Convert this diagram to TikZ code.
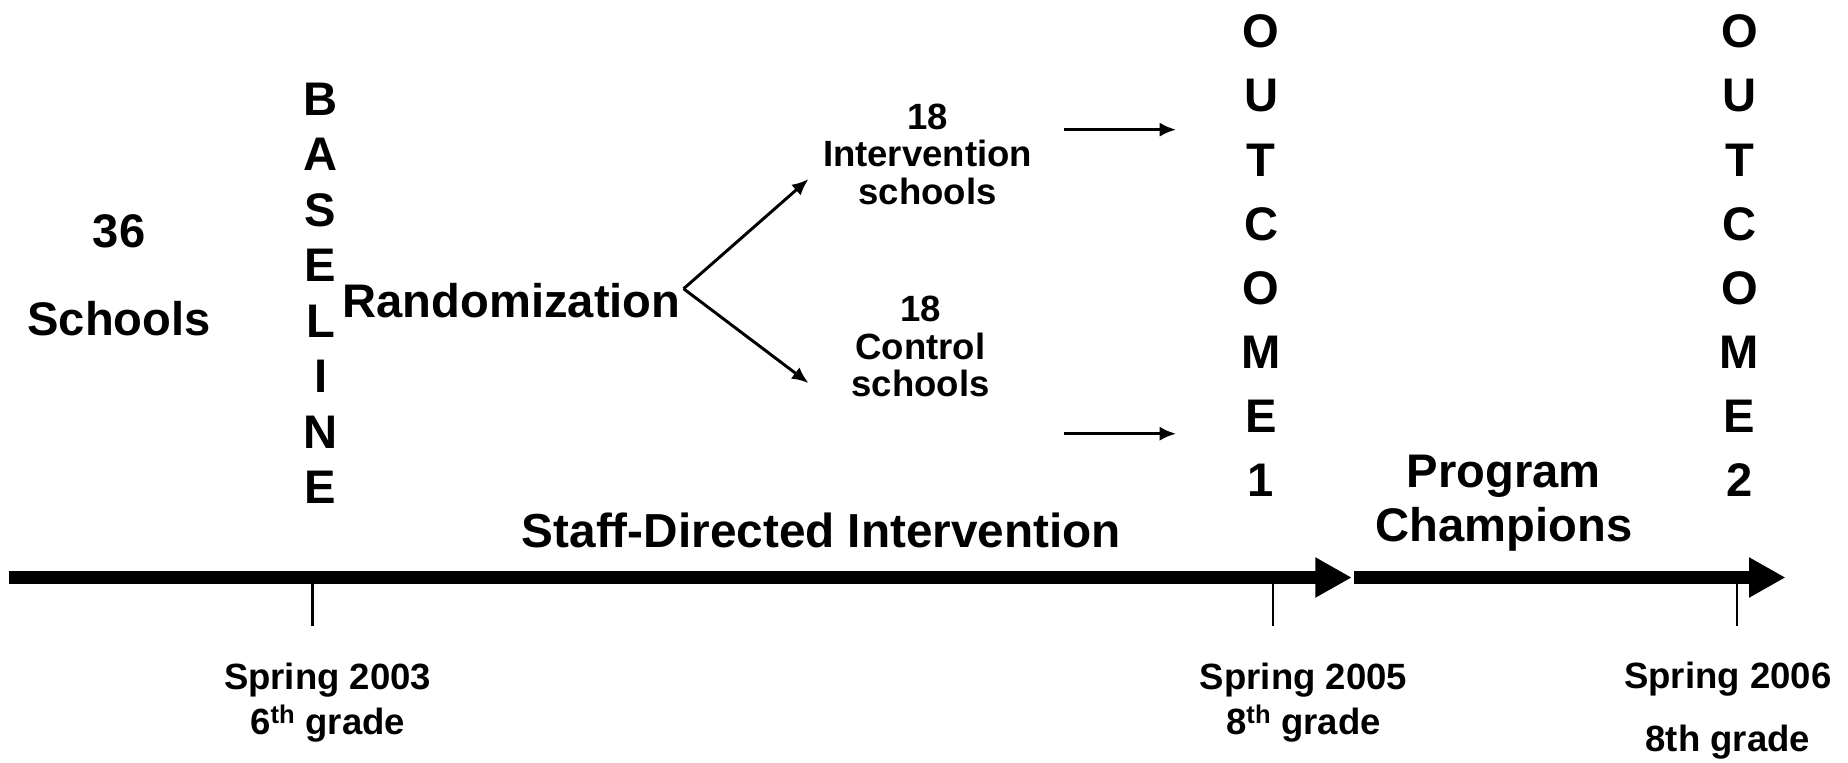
\documentclass[tikz,border=0pt]{standalone}
\usepackage{fontspec}
\setmainfont{Liberation Sans}
\usetikzlibrary{arrows.meta,positioning}

\begin{document}
\begin{tikzpicture}[x=1pt, y=-1pt, >={Latex[length=14pt,width=12pt]},
  big/.style={font=\bfseries\fontsize{40}{44}\selectfont, align=center, inner sep=0pt},
  small/.style={font=\bfseries\fontsize{31}{32}\selectfont, align=center, inner sep=0pt},
  bar/.style={line width=11pt, black},
  tick/.style={line width=2pt, black}]

\useasboundingbox (0,0) rectangle (1568,647);

% Step 1: schools and baseline
\path
(101,196) node[big] (n36) {36}
(101,270) node[big] (schools) {Schools}
(272,249) node[big, font=\bfseries\fontsize{40}{47.1}\selectfont] (baseline) {B\\A\\S\\E\\L\\I\\N\\E}
(434,255) node[big] (rand) {Randomization};
% End step 1

% Step 2: the two arms
\path
(787,131) node[small] (interv) {18\\Intervention\\schools}
(781,294) node[small] (control) {18\\Control\\schools};
\coordinate (split) at (580,245);
\coordinate (armA) at (686,152);
\coordinate (armB) at (686,325);
\draw[->, line width=2.5pt] (split) -- (armA);
\draw[->, line width=2.5pt] (split) -- (armB);

\coordinate (goA) at (903,110);
\coordinate (goA2) at (998,110);
\coordinate (goB) at (903,368);
\coordinate (goB2) at (998,368);
\draw[->, line width=3pt] (goA) -- (goA2);
\draw[->, line width=3pt] (goB) -- (goB2);
% end of Step 2

% step 3: outcomes
\path
(1070,217) node[big, font=\bfseries\fontsize{40}{54.4}\selectfont] (out1) {O\\U\\T\\C\\O\\M\\E\\1}
(1476,217) node[big, font=\bfseries\fontsize{40}{54.4}\selectfont] (out2) {O\\U\\T\\C\\O\\M\\E\\2}
(697,450) node[big, font=\bfseries\fontsize{40.5}{44}\selectfont] (staff) {Staff-Directed Intervention}
(1276,427) node[big, font=\bfseries\fontsize{40}{46}\selectfont] (champ) {Program\\Champions};

% timeline
\coordinate (t0) at (8,490);
\coordinate (t1) at (780,490);
\coordinate (t2) at (1147,490);
\coordinate (t3) at (1149,490);
\coordinate (t4) at (1515,490);
\draw[bar] (t0) -- (t1);
\draw[bar, -{Triangle[length=31pt,width=32pt]}] (t1) -- (t2);
\draw[bar, -{Triangle[length=31pt,width=32pt]}] (t3) -- (t4);

\coordinate (k1) at (265,495);
\coordinate (k1e) at (265,531);
\coordinate (k2) at (1080,495);
\coordinate (k2e) at (1080,531);
\coordinate (k3) at (1474,495);
\coordinate (k3e) at (1474,531);
\draw[tick] (k1) -- (k1e);
\draw[tick] (k2) -- (k2e);
\draw[tick] (k3) -- (k3e);

\path
(278,596) node[small, font=\bfseries\fontsize{31}{38}\selectfont] (d2003) {Spring 2003\\6\textsuperscript{th} grade}
(1106,596) node[small, font=\bfseries\fontsize{31}{38}\selectfont] (d2005) {Spring 2005\\8\textsuperscript{th} grade}
(1466,603) node[small, font=\bfseries\fontsize{31}{53}\selectfont] (d2006) {Spring 2006\\8th grade};

\end{tikzpicture}
\end{document}
